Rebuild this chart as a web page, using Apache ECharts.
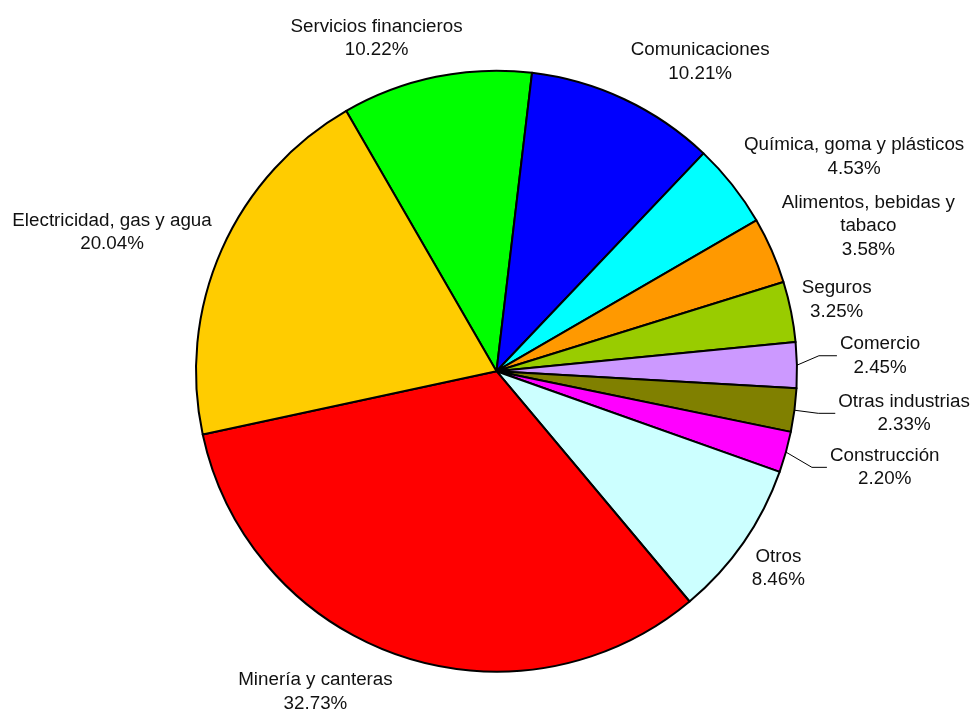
<!DOCTYPE html>
<html>
<head>
<meta charset="utf-8">
<script src="https://cdn.jsdelivr.net/npm/echarts@6/dist/echarts.min.js"></script>
<style>
  html, body { margin: 0; padding: 0; background: #fff; }
  #chart { width: 973px; height: 711px; }
</style>
</head>
<body>
<div id="chart"></div>
<script>
// Sectors, clockwise from the top-left edge of "Servicios financieros"
const categories = [
  'Servicios financieros',
  'Comunicaciones',
  'Química, goma y plásticos',
  'Alimentos, bebidas y tabaco',
  'Seguros',
  'Comercio',
  'Otras industrias',
  'Construcción',
  'Otros',
  'Minería y canteras',
  'Electricidad, gas y agua'
];
const shares = [10.22, 10.21, 4.53, 3.58, 3.25, 2.45, 2.33, 2.20, 8.46, 32.73, 20.04];
const sliceColors = [
  '#00FF00', '#0000FF', '#00FFFF', '#FF9900', '#99CC00', '#CC99FF',
  '#808000', '#FF00FF', '#CCFFFF', '#FF0000', '#FFCC00'
];

// Names that are set on more than one line
const nameLines = {
  'Alimentos, bebidas y tabaco': ['Alimentos, bebidas y', 'tabaco']
};

// Label guide settings per sector (radial length, horizontal length,
// visible leader line, vertical lift of label and line end)
const labelGuide = {
  'Servicios financieros':      { len: 39.3, len2: -37.5 },
  'Comunicaciones':             { len: 41.5, len2: -14.2 },
  'Química, goma y plásticos':  { len: 45.3, len2: -26.9 },
  'Alimentos, bebidas y tabaco':{ len: 61.0, len2: -48.8 },
  'Seguros':                    { len: 59.6, len2: -50.8 },
  'Comercio':                   { len: 22,   len2: 18, line: true, lift: 9 },
  'Otras industrias':           { len: 24,   len2: 17, line: true },
  'Construcción':               { len: 27,   len2: 15, line: true, lift: -8 },
  'Otros':                      { len: 45.0, len2: -31.5 },
  'Minería y canteras':         { len: 38.7, len2: -9.3 },
  'Electricidad, gas y agua':   { len: 42.1, len2: -31.4 }
};

const FONT = '"Liberation Sans", Arial, Helvetica, sans-serif';

const pieData = categories.map(function (name, i) {
  const g = labelGuide[name];
  return {
    name: name,
    value: shares[i],
    itemStyle: { color: sliceColors[i] },
    labelLine: { show: !!g.line, length: g.len, length2: g.len2 }
  };
});

const chart = echarts.init(document.getElementById('chart'), null, { renderer: 'canvas' });

chart.setOption({
  backgroundColor: '#ffffff',
  animation: false,
  series: [{
    type: 'pie',
    center: [496.5, 371.2],
    radius: 300.5,
    startAngle: 120,
    clockwise: true,
    avoidLabelOverlap: false,
    silent: true,
    itemStyle: { borderColor: '#000000', borderWidth: 2 },
    label: {
      show: true,
      position: 'outside',
      alignTo: 'none',
      distanceToLabelLine: 3,
      formatter: function (p) {
        const lines = (nameLines[p.name] || [p.name]).slice();
        lines.push(p.value.toFixed(2) + '%');
        return lines.map(function (t) { return '{c|' + t + '}'; }).join('\n');
      },
      rich: {
        c: {
          align: 'center',
          fontFamily: FONT,
          fontSize: 18.8,
          lineHeight: 23.5,
          color: '#111111'
        }
      }
    },
    labelLine: {
      lineStyle: { color: '#000000', width: 1 },
      smooth: false
    },
    labelLayout: function (p) {
      const g = labelGuide[categories[p.dataIndex]];
      if (!g || !g.lift || !p.labelLinePoints) return {};
      const pts = p.labelLinePoints;
      return {
        y: p.labelRect.y + p.labelRect.height / 2 - g.lift,
        labelLinePoints: [
          pts[0],
          [pts[1][0], pts[1][1] - g.lift],
          [pts[2][0], pts[2][1] - g.lift]
        ]
      };
    },
    data: pieData
  }]
});
</script>
</body>
</html>
